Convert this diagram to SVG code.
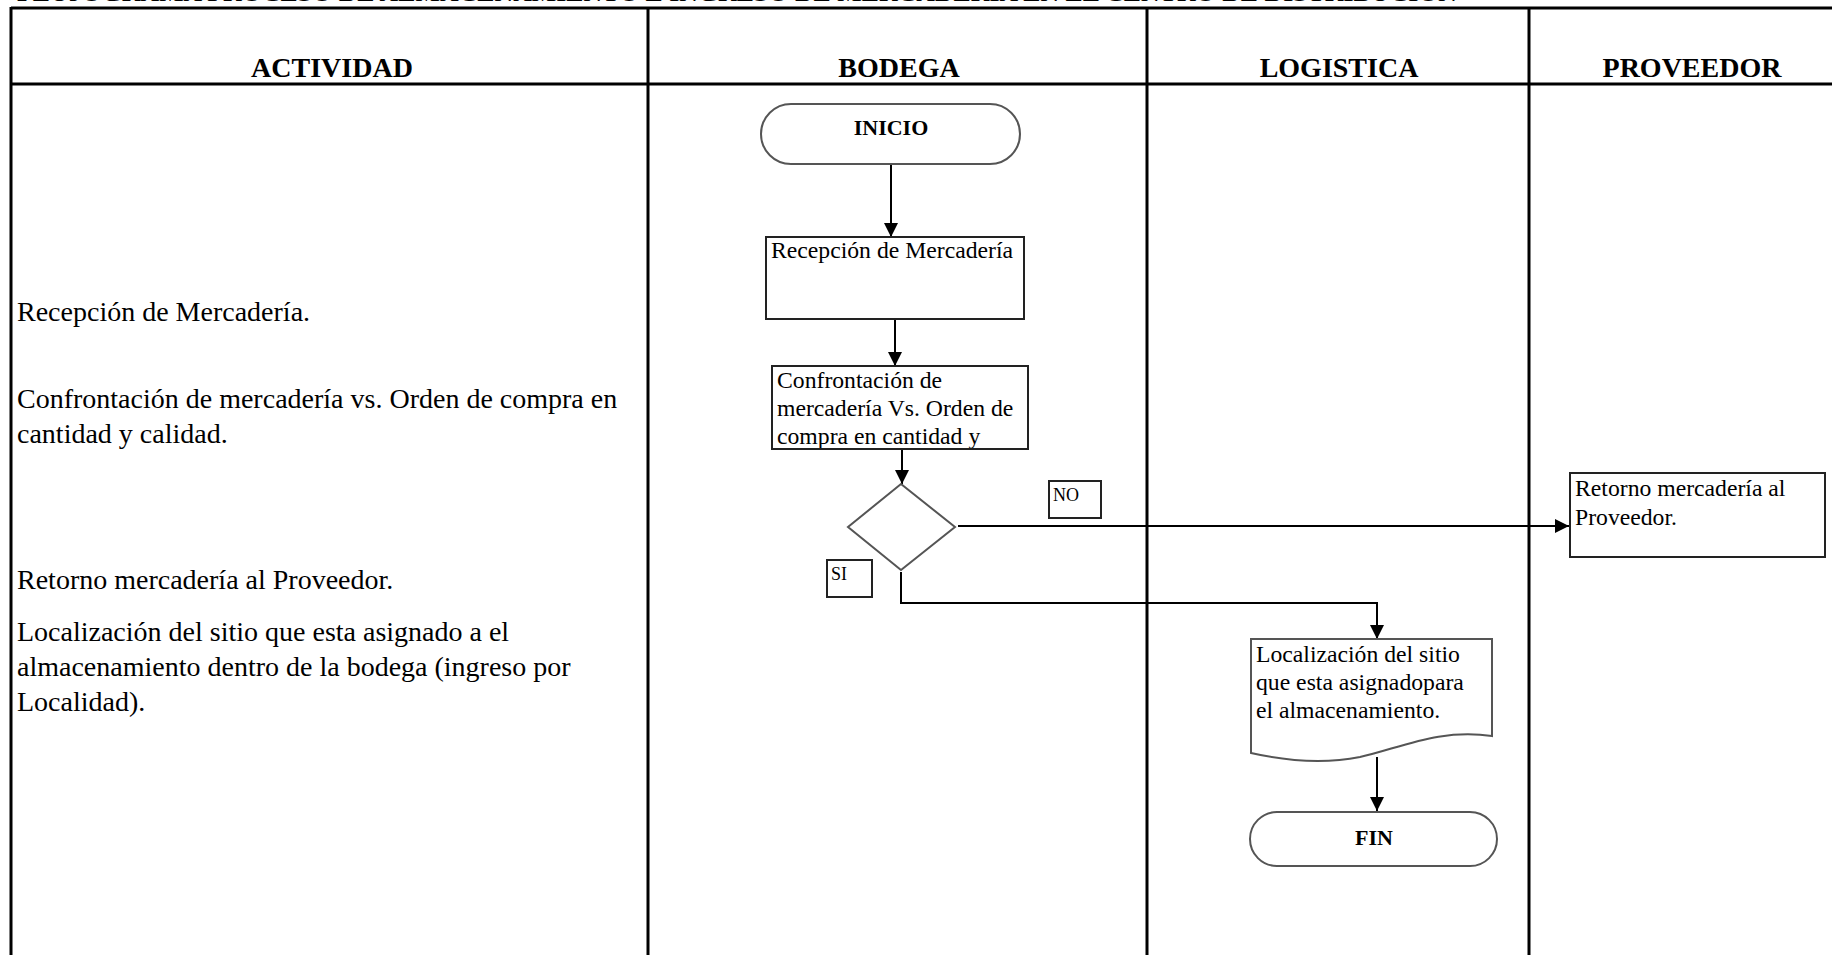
<svg xmlns="http://www.w3.org/2000/svg" width="1832" height="955" viewBox="0 0 1832 955">
  <style>
    .grid { stroke: #000; stroke-width: 3; fill: none; }
    .hdr { font-family: "Liberation Serif", "Times New Roman", serif; font-weight: bold; font-size: 28px; text-anchor: middle; fill: #000; }
    .title { font-family: "Liberation Serif", "Times New Roman", serif; font-weight: bold; font-size: 24px; fill: #000; }
    .note { font-family: "Liberation Serif", "Times New Roman", serif; font-size: 28px; fill: #000; }
    .box { fill: #fff; stroke: #222; stroke-width: 2; }
    .shape { fill: #fff; stroke: #555; stroke-width: 2; }
    .btxt { font-family: "Liberation Serif", "Times New Roman", serif; font-size: 23.7px; fill: #000; }
    .ttxt { font-family: "Liberation Serif", "Times New Roman", serif; font-weight: bold; font-size: 22px; text-anchor: middle; fill: #000; }
    .lbl { font-family: "Liberation Serif", "Times New Roman", serif; font-size: 18px; fill: #000; }
    .conn { stroke: #000; stroke-width: 2; fill: none; }
    .arrow { marker-end: url(#head); }
  </style>
  <defs>
    <marker id="head" markerUnits="userSpaceOnUse" markerWidth="14" markerHeight="14" viewBox="0 0 14 14" refX="14" refY="7" orient="auto">
      <path d="M0,0 L14,7 L0,14 Z" fill="#000"/>
    </marker>
    <clipPath id="confClip">
      <rect x="773" y="367" width="254" height="81"/>
    </clipPath>
  </defs>

  <rect width="1832" height="955" fill="#fff"/>

  <!-- heading strip above the table (cut by the page top) -->
  <text class="title" x="17" y="1" textLength="1440" lengthAdjust="spacingAndGlyphs">FLUJOGRAMA PROCESO DE ALMACENAMIENTO E INGRESO DE MERCADERIA EN EL CENTRO DE DISTRIBUCION</text>

  <!-- swimlane table -->
  <g id="table">
    <line class="grid" x1="11" y1="8" x2="1832" y2="8"/>
    <line class="grid" x1="11" y1="84" x2="1832" y2="84" stroke-width="4"/>
    <line class="grid" x1="11" y1="7" x2="11" y2="955"/>
    <line class="grid" x1="648" y1="7" x2="648" y2="955"/>
    <line class="grid" x1="1147" y1="7" x2="1147" y2="955"/>
    <line class="grid" x1="1529" y1="7" x2="1529" y2="955"/>
    <text class="hdr" x="332" y="77">ACTIVIDAD</text>
    <text class="hdr" x="899" y="77">BODEGA</text>
    <text class="hdr" x="1339" y="77">LOGISTICA</text>
    <text class="hdr" x="1692" y="77">PROVEEDOR</text>
  </g>

  <!-- activity descriptions -->
  <g id="actividades">
    <text class="note" x="17" y="321">Recepción de Mercadería.</text>
    <text class="note" x="17" y="408">Confrontación de mercadería vs.  Orden de compra en</text>
    <text class="note" x="17" y="443">cantidad y calidad.</text>
    <text class="note" x="17" y="589">Retorno mercadería al Proveedor.</text>
    <text class="note" x="17" y="641">Localización del sitio que esta asignado a el</text>
    <text class="note" x="17" y="676">almacenamiento dentro de la bodega (ingreso por</text>
    <text class="note" x="17" y="711">Localidad).</text>
  </g>

  <!-- connectors -->
  <g id="connectors">
    <line class="conn arrow" x1="891" y1="164" x2="891" y2="237"/>
    <line class="conn arrow" x1="895" y1="319" x2="895" y2="366"/>
    <line class="conn arrow" x1="902" y1="449" x2="902" y2="484"/>
    <line class="conn arrow" x1="958" y1="526" x2="1569" y2="526"/>
    <polyline class="conn arrow" points="901,572 901,603 1377,603 1377,639"/>
    <line class="conn arrow" x1="1377" y1="757" x2="1377" y2="811"/>
  </g>

  <g id="inicio">
    <rect class="shape" x="761" y="104" width="259" height="60" rx="30" ry="30"/>
    <text class="ttxt" x="891" y="135">INICIO</text>
  </g>

  <g id="recepcion">
    <rect class="box" x="766" y="237" width="258" height="82"/>
    <text class="btxt" x="771" y="258">Recepción de Mercadería</text>
  </g>

  <g id="confrontacion">
    <rect class="box" x="772" y="366" width="256" height="83"/>
    <g clip-path="url(#confClip)">
      <text class="btxt" x="777" y="388">Confrontación de</text>
      <text class="btxt" x="777" y="416">mercadería Vs. Orden de</text>
      <text class="btxt" x="777" y="444">compra en cantidad y</text>
    </g>
  </g>

  <g id="decision">
    <path class="shape" d="M901,484 L955,527 L901,570 L848,527 Z"/>
  </g>

  <g id="label-no">
    <rect class="box" x="1049" y="481" width="52" height="37"/>
    <text class="lbl" x="1053" y="501">NO</text>
  </g>

  <g id="label-si">
    <rect class="box" x="827" y="560" width="45" height="37"/>
    <text class="lbl" x="831" y="580">SI</text>
  </g>

  <g id="retorno">
    <rect class="box" x="1570" y="473" width="255" height="84"/>
    <text class="btxt" x="1575" y="496">Retorno mercadería al</text>
    <text class="btxt" x="1575" y="525">Proveedor.</text>
  </g>

  <g id="localizacion">
    <path class="shape" d="M1251,639 H1492 V736 C1440,728 1400,748 1360,757 C1320,765 1282,760 1251,753 Z"/>
    <text class="btxt" x="1256" y="662">Localización del sitio</text>
    <text class="btxt" x="1256" y="690">que esta asignadopara</text>
    <text class="btxt" x="1256" y="718">el almacenamiento.</text>
  </g>

  <g id="fin">
    <rect class="shape" x="1250" y="812" width="247" height="54" rx="27" ry="27"/>
    <text class="ttxt" x="1374" y="845">FIN</text>
  </g>
</svg>
